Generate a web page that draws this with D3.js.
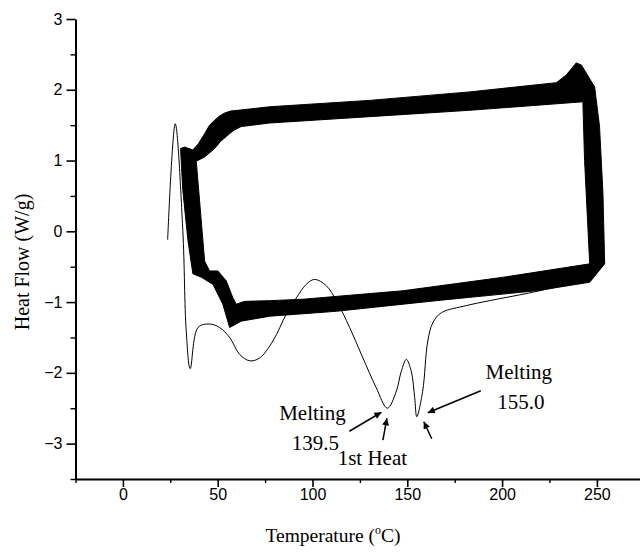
<!DOCTYPE html>
<html>
<head>
<meta charset="utf-8">
<script src="https://cdn.jsdelivr.net/npm/d3@7"></script>
<style>
  html, body { margin: 0; padding: 0; background: #fff; }
  svg { display: block; }
</style>
</head>
<body>
<svg id="chart" width="640" height="552"></svg>
<script>
// Cyclic DSC run: envelope of the repeated heating/cooling loops (outer and inner edge)
const loopOuterTemp = [30.4, 32.5, 36.9, 39.9, 43.1, 45.7, 48.4, 51.0, 53.6, 56.8, 60.7, 77.4, 130.1, 182.9, 228.6, 233.9, 239.1, 241.8, 248.8, 251.4, 253.2, 254.1, 246.2, 218.0, 165.3, 112.6, 77.4, 62.4, 56.3, 52.7, 47.5, 41.4, 36.9, 34.3, 31.6];
const loopOuterFlow = [1.17, 1.19, 1.15, 1.24, 1.38, 1.50, 1.57, 1.63, 1.67, 1.70, 1.71, 1.76, 1.85, 1.97, 2.10, 2.21, 2.38, 2.35, 2.04, 1.48, 0.53, -0.46, -0.72, -0.84, -0.98, -1.13, -1.20, -1.27, -1.36, -1.03, -0.75, -0.65, -0.60, -0.13, 0.58];
const loopInnerTemp = [38.7, 43.1, 48.4, 51.5, 55.4, 58.6, 62.4, 77.4, 130.1, 182.9, 242.6, 243.5, 246.2, 200.4, 147.7, 94.9, 77.4, 64.2, 59.8, 58.0, 54.5, 50.1, 45.7, 43.1];
const loopInnerFlow = [0.99, 1.05, 1.17, 1.27, 1.36, 1.43, 1.48, 1.53, 1.62, 1.71, 1.83, 1.00, -0.46, -0.65, -0.84, -0.96, -0.98, -0.99, -1.03, -0.94, -0.70, -0.56, -0.56, -0.42];

// First heating scan
const heatTemp = [23.6, 27.6, 31.6, 33.4, 35.5, 39.6, 45.7, 51.0, 56.3, 61.6, 66.9, 72.1, 79.1, 86.2, 91.5, 96.7, 101.1, 107.3, 112.6, 119.6, 126.6, 133.6, 139.5, 144.2, 146.8, 149.5, 152.1, 153.9, 155.0, 158.1, 160.8, 163.5, 168.0, 181.1, 193.4, 214.5, 240.0];
const heatFlow = [-0.12, 1.52, 0.01, -1.41, -1.94, -1.36, -1.31, -1.36, -1.50, -1.74, -1.83, -1.79, -1.55, -1.17, -0.94, -0.75, -0.68, -0.77, -0.98, -1.36, -1.79, -2.21, -2.50, -2.26, -1.98, -1.81, -1.98, -2.35, -2.62, -2.26, -1.55, -1.29, -1.15, -1.05, -0.98, -0.87, -0.72];

// Melting peaks of the first heat
const peakTemps = [139.5, 155.0];
const peakFlows = [-2.50, -2.62];

const xMajor = [0, 50, 100, 150, 200, 250];
const xMinor = [-25, 25, 75, 125, 175, 225];
const yMajor = [-3, -2, -1, 0, 1, 2, 3];
const yMinor = [-3.5, -2.5, -1.5, -0.5, 0.5, 1.5, 2.5];

const svg = d3.select("#chart");
const x = d3.scaleLinear().domain([-25, 275]).range([75.5, 644.3]);
const y = d3.scaleLinear().domain([-3.5, 3]).range([479, 19]);

const serif = "'Liberation Serif', 'Times New Roman', serif";
const sans = "'Liberation Sans', Arial, sans-serif";

// Loop band: outer edge + inner edge, filled with even-odd rule
const outer = loopOuterTemp.map((t, i) => [t, loopOuterFlow[i]]);
const inner = loopInnerTemp.map((t, i) => [t, loopInnerFlow[i]]);
const loopLine = d3.line().x(d => x(d[0])).y(d => y(d[1])).curve(d3.curveLinearClosed);
svg.append("path")
  .attr("d", loopLine(outer) + loopLine(inner))
  .attr("fill", "#000")
  .attr("fill-rule", "evenodd")
  .attr("stroke", "#000")
  .attr("stroke-width", 1)
  .attr("stroke-linejoin", "round");

// First heat trace
const heat = heatTemp.map((t, i) => [t, heatFlow[i]]);
svg.append("path")
  .datum(heat)
  .attr("d", d3.line().x(d => x(d[0])).y(d => y(d[1])).curve(d3.curveCatmullRom.alpha(0.5)))
  .attr("fill", "none")
  .attr("stroke", "#000")
  .attr("stroke-width", 1);

// Axes
function styleAxis(g) {
  g.select(".domain").attr("stroke", "#000").attr("stroke-width", 2);
  g.selectAll(".tick line").attr("stroke", "#000").attr("stroke-width", 1.6);
}
const gx = svg.append("g").attr("transform", `translate(0,${y(-3.5)})`)
  .call(d3.axisBottom(x).tickValues(xMajor).tickSize(8).tickPadding(2).tickSizeOuter(0).tickFormat(d3.format("d")));
styleAxis(gx);
gx.selectAll("text").attr("font-family", sans).attr("font-size", 16).attr("fill", "#000");
svg.append("g").attr("transform", `translate(0,${y(-3.5)})`)
  .call(d3.axisBottom(x).tickValues(xMinor).tickSize(4).tickFormat(""))
  .call(g => g.select(".domain").remove())
  .call(g => g.selectAll(".tick line").attr("stroke", "#000").attr("stroke-width", 1.4));

const gy = svg.append("g").attr("transform", `translate(${x(-25)},0)`)
  .call(d3.axisLeft(y).tickValues(yMajor).tickSize(9).tickPadding(4).tickSizeOuter(0).tickFormat(d3.format("d")));
styleAxis(gy);
gy.selectAll("text").attr("font-family", sans).attr("font-size", 16).attr("fill", "#000");
svg.append("g").attr("transform", `translate(${x(-25)},0)`)
  .call(d3.axisLeft(y).tickValues(yMinor).tickSize(5).tickFormat(""))
  .call(g => g.select(".domain").remove())
  .call(g => g.selectAll(".tick line").attr("stroke", "#000").attr("stroke-width", 1.4));

// Axis titles
const xt = svg.append("text")
  .attr("x", 333).attr("y", 542)
  .attr("text-anchor", "middle")
  .attr("font-family", serif).attr("font-size", 19.5).attr("fill", "#000");
xt.append("tspan").text("Temperature (");
xt.append("tspan").attr("font-size", 12).attr("dy", -8).text("o");
xt.append("tspan").attr("dy", 8).text("C)");

svg.append("text")
  .attr("transform", "translate(29,262) rotate(-90)")
  .attr("text-anchor", "middle")
  .attr("font-family", serif).attr("font-size", 20).attr("fill", "#000")
  .text("Heat Flow (W/g)");

// Peak annotations
svg.append("defs").append("marker")
  .attr("id", "head")
  .attr("viewBox", "0 0 10 10")
  .attr("refX", 10).attr("refY", 5)
  .attr("markerWidth", 9).attr("markerHeight", 7)
  .attr("markerUnits", "userSpaceOnUse")
  .attr("orient", "auto")
  .append("path").attr("d", "M0,0 L10,5 L0,10 Z").attr("fill", "#000");

const p1 = [x(peakTemps[0]), y(peakFlows[0])];
const p2 = [x(peakTemps[1]), y(peakFlows[1])];

function arrow(p, dx1, dy1, dx2, dy2) {
  svg.append("line")
    .attr("x1", p[0] + dx1).attr("y1", p[1] + dy1)
    .attr("x2", p[0] + dx2).attr("y2", p[1] + dy2)
    .attr("stroke", "#000").attr("stroke-width", 1.5)
    .attr("marker-end", "url(#head)");
}
function label(p, dx, dy, txt) {
  svg.append("text")
    .attr("x", p[0] + dx).attr("y", p[1] + dy)
    .attr("text-anchor", "middle")
    .attr("font-family", serif).attr("font-size", 21).attr("fill", "#000")
    .text(txt);
}

arrow(p1, -38, 23, -6, 4);
arrow(p1, -4.5, 32, -0.5, 10);
arrow(p2, 15, 22, 7, 5);
arrow(p2, 64, -26, 11, -4);

label(p1, -75, 11.5, "Melting");
label(p1, -72, 42, d3.format(".1f")(peakTemps[0]));
label(p1, -15, 57, "1st Heat");
label(p2, 102, -38, "Melting");
label(p2, 104, -8, d3.format(".1f")(peakTemps[1]));
</script>
</body>
</html>
